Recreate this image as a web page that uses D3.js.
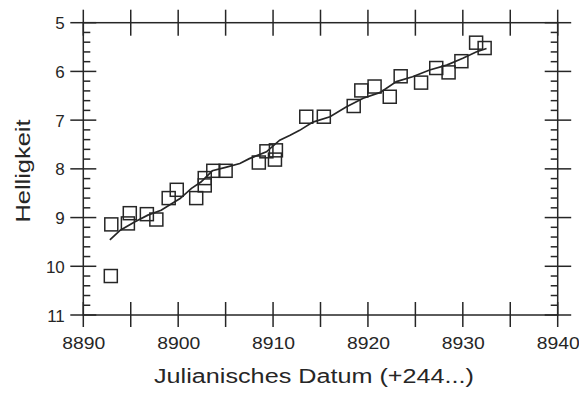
<!DOCTYPE html>
<html><head><meta charset="utf-8">
<script src="https://cdn.jsdelivr.net/npm/d3@7"></script>
<style>body{margin:0;background:#fff}svg{display:block}</style>
</head><body><svg id="c" width="579" height="394"></svg>
<script>
// Observations: Julian date (+2440000) and magnitude
const pointJD  = [8892.95, 8892.9, 8894.7, 8894.9, 8896.7, 8897.7, 8899.0, 8899.85, 8901.9, 8902.8, 8902.8, 8903.7, 8905.0, 8908.5, 8909.3, 8910.2, 8910.3, 8913.5, 8915.35, 8918.5, 8919.3, 8920.7, 8922.3, 8923.45, 8925.6, 8927.2, 8928.5, 8929.85, 8931.4, 8932.3];
const pointMag = [9.14, 10.20, 9.12, 8.91, 8.93, 9.04, 8.60, 8.43, 8.60, 8.19, 8.34, 8.04, 8.04, 7.87, 7.64, 7.81, 7.62, 6.93, 6.93, 6.71, 6.39, 6.31, 6.52, 6.10, 6.23, 5.93, 6.02, 5.79, 5.41, 5.52];
// Fitted light curve
const lineJD  = [8892.8, 8893.9, 8895.4, 8896.8, 8898.2, 8899.6, 8900.2, 8901.4, 8902.4, 8903.6, 8905.0, 8906.5, 8907.5, 8909.3, 8910.7, 8911.8, 8912.8, 8914.2, 8916.0, 8917.7, 8919.5, 8921.3, 8923.0, 8924.7, 8926.5, 8928.3, 8930.0, 8931.4, 8932.5];
const lineMag = [9.46, 9.26, 9.09, 8.95, 8.85, 8.68, 8.61, 8.40, 8.27, 8.04, 7.97, 7.89, 7.79, 7.65, 7.41, 7.31, 7.21, 7.04, 6.93, 6.73, 6.55, 6.43, 6.21, 6.11, 5.97, 5.87, 5.73, 5.60, 5.53];
const xMajorTicks = [8890, 8895, 8900, 8905, 8910, 8915, 8920, 8925, 8930, 8935, 8940];
const xLabels = [8890, 8900, 8910, 8920, 8930, 8940];
const yMajorTicks = [5, 6, 7, 8, 9, 10, 11];
const yMinorTicks = [5.2,5.4,5.6,5.8,6.2,6.4,6.6,6.8,7.2,7.4,7.6,7.8,8.2,8.4,8.6,8.8,9.2,9.4,9.6,9.8,10.2,10.4,10.6,10.8];
const xTitle = "Julianisches Datum (+244...)";
const yTitle = "Helligkeit";

const ink = "#262626";
const font = "'Liberation Sans', Arial, Helvetica, sans-serif";
const L = 83.3, R = 557.7, T = 22.7, B = 315;
const x = d3.scaleLinear().domain([8890, 8940]).range([L, R]);
const y = d3.scaleLinear().domain([5, 11]).range([T, B]);

const svg = d3.select("#c");
svg.append("rect").attr("width",579).attr("height",394).attr("fill","#fff");

// tick labels via axes
const gx = svg.append("g").attr("transform", `translate(0,${B})`)
  .call(d3.axisBottom(x).tickValues(xLabels).tickSize(0).tickFormat(d3.format("d")));
gx.select(".domain").remove();
gx.selectAll("text").attr("y", 34).attr("dy", 0)
  .attr("font-family", font).attr("font-size", 17).attr("fill", ink)
  .attr("textLength", 43).attr("lengthAdjust", "spacingAndGlyphs");

const gy = svg.append("g").attr("transform", `translate(${L},0)`)
  .call(d3.axisLeft(y).tickValues(yMajorTicks).tickSize(0).tickFormat(d3.format("d")));
gy.select(".domain").remove();
gy.selectAll("text").attr("x", -18.5).attr("dy", "0.36em")
  .attr("font-family", font).attr("font-size", 17).attr("fill", ink);

// frame
const fr = svg.append("g").attr("stroke", ink).attr("stroke-width", 1.5).attr("fill", "none");
fr.append("rect").attr("x", L).attr("y", T).attr("width", R - L).attr("height", B - T);

// crossing major ticks
xMajorTicks.forEach(v => {
  fr.append("line").attr("x1", x(v)).attr("x2", x(v)).attr("y1", B - 13).attr("y2", B + 12);
  fr.append("line").attr("x1", x(v)).attr("x2", x(v)).attr("y1", T - 13).attr("y2", T + 13);
});
yMajorTicks.forEach(v => {
  fr.append("line").attr("x1", L - 13).attr("x2", L + 13).attr("y1", y(v)).attr("y2", y(v));
  fr.append("line").attr("x1", R - 13).attr("x2", R + 13.5).attr("y1", y(v)).attr("y2", y(v));
});
yMinorTicks.forEach(v => {
  fr.append("line").attr("x1", L).attr("x2", L + 7).attr("y1", y(v)).attr("y2", y(v));
  fr.append("line").attr("x1", R - 7).attr("x2", R).attr("y1", y(v)).attr("y2", y(v));
});

// fitted line
const lineData = lineJD.map((d, i) => [d, lineMag[i]]);
svg.append("path").datum(lineData)
  .attr("d", d3.line().x(d => x(d[0])).y(d => y(d[1])))
  .attr("fill", "none").attr("stroke", ink).attr("stroke-width", 1.7);

// squares
const s = 13;
svg.append("g").selectAll("rect").data(pointJD.map((d, i) => [d, pointMag[i]])).join("rect")
  .attr("x", d => x(d[0]) - s / 2).attr("y", d => y(d[1]) - s / 2)
  .attr("width", s).attr("height", s)
  .attr("fill", "none").attr("stroke", ink).attr("stroke-width", 1.5);

// axis titles
svg.append("text").text(xTitle)
  .attr("x", 314).attr("y", 383).attr("text-anchor", "middle")
  .attr("font-family", font).attr("font-size", 20).attr("fill", ink)
  .attr("textLength", 320).attr("lengthAdjust", "spacingAndGlyphs");
svg.append("text").text(yTitle)
  .attr("transform", "translate(30,171) rotate(-90)").attr("text-anchor", "middle")
  .attr("font-family", font).attr("font-size", 20).attr("fill", ink)
  .attr("textLength", 103).attr("lengthAdjust", "spacingAndGlyphs");
</script>
</body></html>
